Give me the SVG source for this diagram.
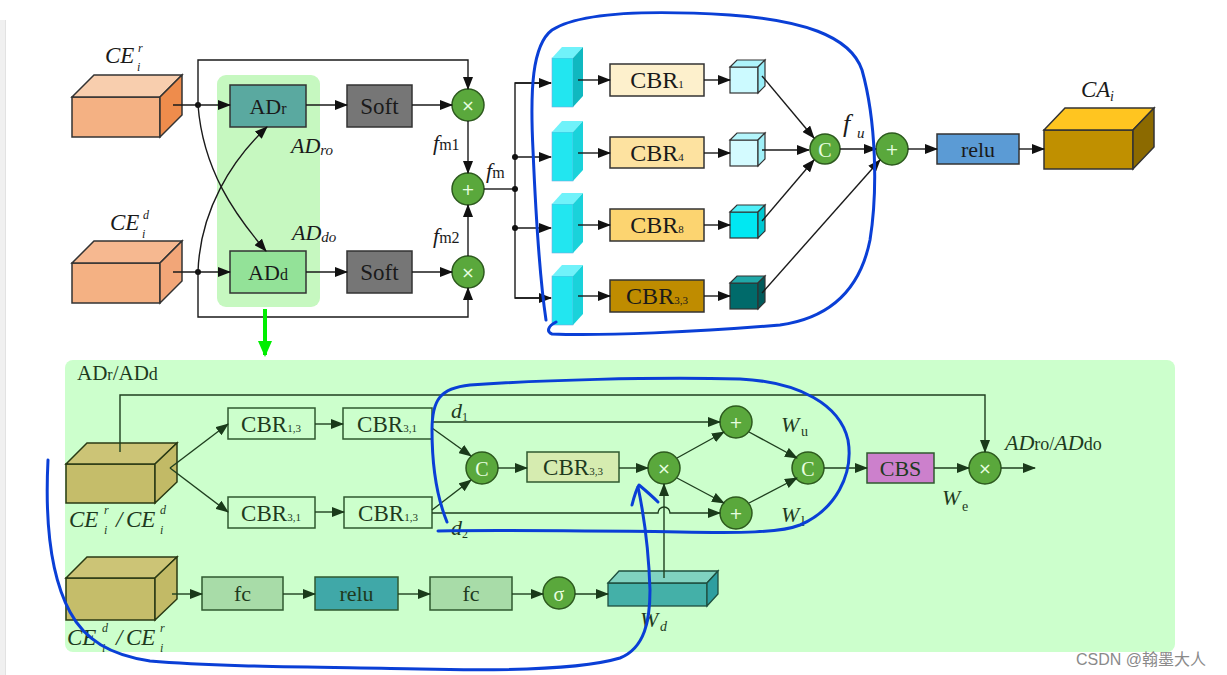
<svg xmlns="http://www.w3.org/2000/svg" width="1227" height="675" viewBox="0 0 1227 675">
<defs>
<marker id="a" markerUnits="userSpaceOnUse" markerWidth="13" markerHeight="10" refX="12" refY="5" orient="auto"><path d="M0,0 L13,5 L0,10 z" fill="#111"/></marker>
<marker id="g" markerUnits="userSpaceOnUse" markerWidth="13" markerHeight="10" refX="12" refY="5" orient="auto"><path d="M0,0 L13,5 L0,10 z" fill="#1a3a1a"/></marker>
<marker id="bg" markerUnits="userSpaceOnUse" markerWidth="16" markerHeight="14" refX="14" refY="7" orient="auto"><path d="M0,0 L16,7 L0,14 z" fill="#00ee00"/></marker>
<style>
.t{font-family:"Liberation Serif","Times New Roman",serif;fill:#1a1a1a}
.i{font-style:italic}
.gt{font-family:"Liberation Serif","Times New Roman",serif;fill:#1e3a1e}
.ln{fill:none;stroke:#1a1a1a;stroke-width:1.4}
.gl{fill:none;stroke:#1f3f1f;stroke-width:1.4}
.ci{fill:#5aa83c;stroke:#2d5a1e;stroke-width:1.5}
.sym{font-family:"DejaVu Sans",sans-serif;fill:#e8ffe0;font-size:16px}
.csym{font-family:"Liberation Serif",serif;fill:#e8ffe0;font-size:20px}
.bx{stroke:#333;stroke-width:1.5}
.gb{stroke:#2f5a2f;stroke-width:1.5}
.blue{fill:none;stroke:#0a3fd6;stroke-width:3;stroke-linecap:round;stroke-linejoin:round}
</style>
</defs>

<rect x="0" y="0" width="1227" height="675" fill="#ffffff"/>
<rect x="0" y="20" width="5" height="655" fill="#f0f0f0"/>
<line x1="5.5" y1="20" x2="5.5" y2="675" stroke="#e2e2e2" stroke-width="1"/>

<!-- top green highlight -->
<rect x="217" y="75" width="103" height="232" rx="9" fill="#c6f8c0"/>
<!-- bottom panel -->
<rect x="65" y="360" width="1110" height="292" rx="8" fill="#ccffcc"/>

<!-- ===== TOP SECTION NODES ===== -->
<g id="ce-r">
<rect x="72" y="97" width="88" height="40" fill="#f4b183" stroke="#333" stroke-width="1.5"/>
<polygon points="72,97 94,75 182,75 160,97" fill="#f8ceae" stroke="#333" stroke-width="1.5"/>
<polygon points="160,97 182,75 182,115 160,137" fill="#ee8c4c" stroke="#333" stroke-width="1.5"/>
<text class="t i" x="105" y="63" font-size="23">CE</text>
<text class="t i" x="138" y="52" font-size="12">r</text>
<text class="t i" x="137" y="71" font-size="12">i</text>
</g>
<g id="ce-d">
<rect x="72" y="263" width="88" height="40" fill="#f4b183" stroke="#333" stroke-width="1.5"/>
<polygon points="72,263 94,241 182,241 160,263" fill="#f6b890" stroke="#333" stroke-width="1.5"/>
<polygon points="160,263 182,241 182,281 160,303" fill="#f2a678" stroke="#333" stroke-width="1.5"/>
<text class="t i" x="110" y="230" font-size="23">CE</text>
<text class="t i" x="143" y="219" font-size="12">d</text>
<text class="t i" x="142" y="238" font-size="12">i</text>
</g>
<g id="adr">
<rect class="bx" x="230" y="85" width="76" height="42" fill="#5aa9a0"/>
<text class="t" x="268" y="114" font-size="22" text-anchor="middle">AD<tspan font-size="16">r</tspan></text>
</g>
<g id="add">
<rect class="bx" x="230" y="251" width="76" height="42" fill="#93e298"/>
<text class="t" x="268" y="280" font-size="22" text-anchor="middle">AD<tspan font-size="16">d</tspan></text>
</g>
<text class="t i" x="291" y="153" font-size="22" fill="#1a3a1a">AD<tspan font-size="15" dy="2">ro</tspan></text>
<text class="t i" x="292" y="240" font-size="22" fill="#1a3a1a">AD<tspan font-size="15" dy="2">do</tspan></text>
<g id="soft1">
<rect class="bx" x="347" y="85" width="65" height="42" fill="#767676"/>
<text class="t" x="379.5" y="114" font-size="23" text-anchor="middle">Soft</text>
</g>
<g id="soft2">
<rect class="bx" x="347" y="251" width="65" height="42" fill="#767676"/>
<text class="t" x="379.5" y="280" font-size="23" text-anchor="middle">Soft</text>
</g>
<g id="mul1"><circle class="ci" cx="468" cy="105" r="16"/><text class="sym" x="468" y="105" text-anchor="middle" dominant-baseline="central">×</text></g>
<g id="mul2"><circle class="ci" cx="468" cy="272" r="16"/><text class="sym" x="468" y="272" text-anchor="middle" dominant-baseline="central">×</text></g>
<g id="add1"><circle class="ci" cx="468" cy="189" r="16"/><text class="sym" x="468" y="189" text-anchor="middle" dominant-baseline="central">+</text></g>
<text class="t i" x="433" y="150" font-size="22">f<tspan font-style="normal" font-size="16">m1</tspan></text>
<text class="t i" x="433" y="243" font-size="22">f<tspan font-style="normal" font-size="16">m2</tspan></text>
<text class="t i" x="486" y="178" font-size="22">f<tspan font-style="normal" font-size="16">m</tspan></text>

<!-- cyan blocks -->
<g id="blk1">
<rect x="552" y="58" width="21" height="49" fill="#22e6f0" stroke="#7ad" stroke-width="0.6"/>
<polygon points="552,58 562,47 583,47 573,58" fill="#70f2fa"/>
<polygon points="573,58 583,47 583,96 573,107" fill="#10b8c0"/>
</g>
<g id="blk2">
<rect x="552" y="132" width="21" height="49" fill="#22e6f0" stroke="#7ad" stroke-width="0.6"/>
<polygon points="552,132 562,121 583,121 573,132" fill="#70f2fa"/>
<polygon points="573,132 583,121 583,170 573,181" fill="#1ad2da"/>
</g>
<g id="blk3">
<rect x="552" y="204" width="21" height="49" fill="#22e6f0" stroke="#7ad" stroke-width="0.6"/>
<polygon points="552,204 562,193 583,193 573,204" fill="#70f2fa"/>
<polygon points="573,204 583,193 583,242 573,253" fill="#1ad2da"/>
</g>
<g id="blk4">
<rect x="552" y="276" width="21" height="49" fill="#22e6f0" stroke="#7ad" stroke-width="0.6"/>
<polygon points="552,276 562,265 583,265 573,276" fill="#70f2fa"/>
<polygon points="573,276 583,265 583,314 573,325" fill="#1ad2da"/>
</g>
<g id="cbr1"><rect class="bx" x="610" y="64" width="94" height="32" fill="#fdf0cc"/><text class="t" x="657" y="88" font-size="24" text-anchor="middle">CBR<tspan font-size="11">1</tspan></text></g>
<g id="cbr4"><rect class="bx" x="610" y="137" width="94" height="31" fill="#fde2a0"/><text class="t" x="657" y="161" font-size="24" text-anchor="middle">CBR<tspan font-size="11">4</tspan></text></g>
<g id="cbr8"><rect class="bx" x="610" y="209" width="94" height="32" fill="#fcd470"/><text class="t" x="657" y="233" font-size="24" text-anchor="middle">CBR<tspan font-size="11">8</tspan></text></g>
<g id="cbr33"><rect class="bx" x="610" y="280" width="94" height="32" fill="#bf8c00"/><text class="t" x="657" y="304" font-size="24" text-anchor="middle">CBR<tspan font-size="11">3,3</tspan></text></g>
<g id="cube1">
<rect x="730" y="67" width="28" height="26" fill="#ccfaff" stroke="#333" stroke-width="1.2"/>
<polygon points="730,67 737,60 765,60 758,67" fill="#aef4fb" stroke="#333" stroke-width="1.2"/>
<polygon points="758,67 765,60 765,86 758,93" fill="#98eef8" stroke="#333" stroke-width="1.2"/>
</g>
<g id="cube2">
<rect x="730" y="140" width="28" height="26" fill="#d4fbff" stroke="#333" stroke-width="1.2"/>
<polygon points="730,140 737,133 765,133 758,140" fill="#b4f5fb" stroke="#333" stroke-width="1.2"/>
<polygon points="758,140 765,133 765,159 758,166" fill="#a0f0f8" stroke="#333" stroke-width="1.2"/>
</g>
<g id="cube3">
<rect x="730" y="212" width="28" height="26" fill="#00e8f2" stroke="#333" stroke-width="1.2"/>
<polygon points="730,212 737,205 765,205 758,212" fill="#50f0f8" stroke="#333" stroke-width="1.2"/>
<polygon points="758,212 765,205 765,231 758,238" fill="#00c8d2" stroke="#333" stroke-width="1.2"/>
</g>
<g id="cube4">
<rect x="730" y="283" width="28" height="26" fill="#006a6a" stroke="#333" stroke-width="1.2"/>
<polygon points="730,283 737,276 765,276 758,283" fill="#20a8a8" stroke="#333" stroke-width="1.2"/>
<polygon points="758,283 765,276 765,302 758,309" fill="#005a5a" stroke="#333" stroke-width="1.2"/>
</g>
<g id="concat1"><circle class="ci" cx="825" cy="149" r="15"/><text class="csym" x="825" y="150" text-anchor="middle" dominant-baseline="central">C</text></g>
<text class="t i" x="843" y="132" font-size="26">f</text>
<text class="t i" x="857" y="138" font-size="15">u</text>
<g id="add2"><circle class="ci" cx="892" cy="149" r="16"/><text class="sym" x="892" y="149" text-anchor="middle" dominant-baseline="central">+</text></g>
<g id="relu1"><rect class="bx" x="937" y="134" width="82" height="30" fill="#5b9bd5"/><text class="t" x="978" y="157" font-size="22" text-anchor="middle">relu</text></g>
<g id="ca">
<rect x="1044" y="130" width="89" height="39" fill="#c09000" stroke="#333" stroke-width="1.5"/>
<polygon points="1044,130 1065,108 1154,108 1133,130" fill="#ffc520" stroke="#333" stroke-width="1.5"/>
<polygon points="1133,130 1154,108 1154,147 1133,169" fill="#8c6a00" stroke="#333" stroke-width="1.5"/>
<text class="t i" x="1081" y="97" font-size="23">CA</text>
<text class="t i" x="1110" y="101" font-size="14">i</text>
</g>

<!-- ===== BOTTOM PANEL NODES ===== -->
<text class="gt" x="77" y="380" font-size="21">AD<tspan font-size="16">r</tspan>/AD<tspan font-size="18">d</tspan></text>
<g id="ce-rd">
<rect x="66" y="464" width="89" height="39" fill="#c5bd6a" stroke="#2a3a14" stroke-width="1.5"/>
<polygon points="66,464 87,443 177,443 155,464" fill="#ccc476" stroke="#2a3a14" stroke-width="1.5"/>
<polygon points="155,464 177,443 177,482 155,503" fill="#c2ba66" stroke="#2a3a14" stroke-width="1.5"/>
<text class="gt i" x="69" y="527" font-size="23">CE</text>
<text class="gt i" x="104" y="514" font-size="12">r</text>
<text class="gt i" x="104" y="534" font-size="12">i</text>
<text class="gt i" x="116" y="527" font-size="23">/</text>
<text class="gt i" x="126" y="527" font-size="23">CE</text>
<text class="gt i" x="160" y="514" font-size="12">d</text>
<text class="gt i" x="160" y="534" font-size="12">i</text>
</g>
<g id="ce-dr">
<rect x="66" y="578" width="89" height="42" fill="#c5bd6a" stroke="#2a3a14" stroke-width="1.5"/>
<polygon points="66,578 87,557 177,557 155,578" fill="#ccc476" stroke="#2a3a14" stroke-width="1.5"/>
<polygon points="155,578 177,557 177,599 155,620" fill="#c2ba66" stroke="#2a3a14" stroke-width="1.5"/>
<text class="gt i" x="67" y="645" font-size="23">CE</text>
<text class="gt i" x="102" y="632" font-size="12">d</text>
<text class="gt i" x="102" y="652" font-size="12">i</text>
<text class="gt i" x="116" y="645" font-size="23">/</text>
<text class="gt i" x="126" y="645" font-size="23">CE</text>
<text class="gt i" x="160" y="632" font-size="12">r</text>
<text class="gt i" x="160" y="652" font-size="12">i</text>
</g>
<g id="b-cbr13a"><rect class="gb" x="228" y="408" width="87" height="31" fill="#ccffcc"/><text class="gt" x="271" y="432" font-size="23" text-anchor="middle">CBR<tspan font-size="11">1,3</tspan></text></g>
<g id="b-cbr31a"><rect class="gb" x="343" y="408" width="89" height="31" fill="#ccffcc"/><text class="gt" x="387" y="432" font-size="23" text-anchor="middle">CBR<tspan font-size="11">3,1</tspan></text></g>
<g id="b-cbr31b"><rect class="gb" x="228" y="497" width="87" height="31" fill="#ccffcc"/><text class="gt" x="271" y="521" font-size="23" text-anchor="middle">CBR<tspan font-size="11">3,1</tspan></text></g>
<g id="b-cbr13b"><rect class="gb" x="344" y="497" width="88" height="31" fill="#ccffcc"/><text class="gt" x="388" y="521" font-size="23" text-anchor="middle">CBR<tspan font-size="11">1,3</tspan></text></g>
<text class="gt i" x="451" y="418" font-size="22">d</text><text class="gt" x="462" y="421" font-size="12">1</text>
<text class="gt i" x="451" y="535" font-size="22">d</text><text class="gt" x="462" y="538" font-size="12">2</text>
<g id="b-c1"><circle class="ci" cx="482" cy="468" r="16"/><text class="csym" x="482" y="469" text-anchor="middle" dominant-baseline="central">C</text></g>
<g id="b-cbr33"><rect class="gb" x="527" y="452" width="92" height="30" fill="#d6ecb0"/><text class="gt" x="573" y="475" font-size="23" text-anchor="middle">CBR<tspan font-size="11">3,3</tspan></text></g>
<g id="b-mul"><circle class="ci" cx="664" cy="468" r="16"/><text class="sym" x="664" y="468" text-anchor="middle" dominant-baseline="central">×</text></g>
<g id="b-addu"><circle class="ci" cx="736" cy="422" r="16"/><text class="sym" x="736" y="422" text-anchor="middle" dominant-baseline="central">+</text></g>
<g id="b-addl"><circle class="ci" cx="736" cy="513" r="16"/><text class="sym" x="736" y="513" text-anchor="middle" dominant-baseline="central">+</text></g>
<text class="gt i" x="781" y="432" font-size="22">W</text><text class="gt" x="801" y="436" font-size="14">u</text>
<text class="gt i" x="781" y="522" font-size="22">W</text><text class="gt" x="801" y="526" font-size="14">l</text>
<g id="b-c2"><circle class="ci" cx="808" cy="468" r="16"/><text class="csym" x="808" y="469" text-anchor="middle" dominant-baseline="central">C</text></g>
<g id="b-cbs"><rect class="gb" x="867" y="453" width="67" height="30" fill="#cc80cc"/><text class="gt" x="900.5" y="476" font-size="22" text-anchor="middle">CBS</text></g>
<g id="b-mul2"><circle class="ci" cx="985" cy="468" r="16"/><text class="sym" x="985" y="468" text-anchor="middle" dominant-baseline="central">×</text></g>
<text class="gt" x="1005" y="450" font-size="22"><tspan font-style="italic">AD</tspan><tspan font-size="18">ro/</tspan><tspan font-style="italic">AD</tspan><tspan font-size="18">do</tspan></text>
<text class="gt i" x="942" y="505" font-size="22">W</text><text class="gt" x="962" y="511" font-size="14">e</text>
<g id="b-fc1"><rect class="gb" x="202" y="577" width="81" height="33" fill="#a8dca8"/><text class="gt" x="242.5" y="601" font-size="22" text-anchor="middle">fc</text></g>
<g id="b-relu"><rect class="gb" x="315" y="577" width="83" height="33" fill="#40a8a8"/><text class="gt" x="356.5" y="601" font-size="22" text-anchor="middle">relu</text></g>
<g id="b-fc2"><rect class="gb" x="430" y="577" width="82" height="33" fill="#a8dca8"/><text class="gt" x="471" y="601" font-size="22" text-anchor="middle">fc</text></g>
<g id="b-sig"><circle class="ci" cx="559" cy="593" r="16"/><text class="csym" x="559" y="594" text-anchor="middle" dominant-baseline="central">σ</text></g>
<g id="b-wd">
<rect x="608" y="583" width="99" height="23" fill="#44b0a8" stroke="#1f4f3f" stroke-width="1.3"/>
<polygon points="608,583 619,571 718,571 707,583" fill="#80d2c0" stroke="#1f4f3f" stroke-width="1.3"/>
<polygon points="707,583 718,571 718,594 707,606" fill="#2e9ea0" stroke="#1f4f3f" stroke-width="1.3"/>
<text class="gt i" x="640" y="627" font-size="22">W</text><text class="gt i" x="660" y="631" font-size="14">d</text>
</g>

<!-- ===== CONNECTORS ===== -->
<g id="connectors">
<line class="ln" x1="173" y1="105" x2="230" y2="105" marker-end="url(#a)"/>
<line class="ln" x1="173" y1="272" x2="230" y2="272" marker-end="url(#a)"/>
<circle cx="198" cy="105" r="3" fill="#111"/>
<circle cx="198" cy="272" r="3" fill="#111"/>
<path class="ln" d="M198,105 V60 H468 V89" marker-end="url(#a)"/>
<path class="ln" d="M198,272 V317 H468 V288" marker-end="url(#a)"/>
<path class="ln" d="M198,105 C203,170 235,215 266,251" marker-end="url(#a)"/>
<path class="ln" d="M198,272 C200,210 232,160 267,127" marker-end="url(#a)"/>
<line class="ln" x1="306" y1="105" x2="347" y2="105" marker-end="url(#a)"/>
<line class="ln" x1="306" y1="272" x2="347" y2="272" marker-end="url(#a)"/>
<line class="ln" x1="412" y1="105" x2="452" y2="105" marker-end="url(#a)"/>
<line class="ln" x1="412" y1="272" x2="452" y2="272" marker-end="url(#a)"/>
<line class="ln" x1="468" y1="121" x2="468" y2="173" marker-end="url(#a)"/>
<line class="ln" x1="468" y1="256" x2="468" y2="205" marker-end="url(#a)"/>
<path class="ln" d="M484,189 H515"/>
<path class="ln" d="M551,83 H515 V298 H551"/>
<line class="ln" x1="515" y1="83" x2="551" y2="83" marker-end="url(#a)"/>
<line class="ln" x1="515" y1="157" x2="551" y2="157" marker-end="url(#a)"/>
<line class="ln" x1="515" y1="228" x2="551" y2="228" marker-end="url(#a)"/>
<line class="ln" x1="515" y1="298" x2="551" y2="298" marker-end="url(#a)"/>
<circle cx="515" cy="157" r="3" fill="#111"/>
<circle cx="515" cy="189" r="3" fill="#111"/>
<circle cx="515" cy="228" r="3" fill="#111"/>
<line class="ln" x1="578" y1="80" x2="610" y2="80" marker-end="url(#a)"/>
<line class="ln" x1="578" y1="153" x2="610" y2="153" marker-end="url(#a)"/>
<line class="ln" x1="578" y1="225" x2="610" y2="225" marker-end="url(#a)"/>
<line class="ln" x1="578" y1="296" x2="610" y2="296" marker-end="url(#a)"/>
<line class="ln" x1="704" y1="80" x2="730" y2="80" marker-end="url(#a)"/>
<line class="ln" x1="704" y1="153" x2="730" y2="153" marker-end="url(#a)"/>
<line class="ln" x1="704" y1="225" x2="730" y2="225" marker-end="url(#a)"/>
<line class="ln" x1="704" y1="296" x2="730" y2="296" marker-end="url(#a)"/>
<line class="ln" x1="762" y1="76" x2="814" y2="138" marker-end="url(#a)"/>
<line class="ln" x1="762" y1="150" x2="809" y2="150" marker-end="url(#a)"/>
<line class="ln" x1="762" y1="221" x2="814" y2="160" marker-end="url(#a)"/>
<line class="ln" x1="762" y1="293" x2="880" y2="160" marker-end="url(#a)"/>
<line class="ln" x1="840" y1="149" x2="876" y2="149" marker-end="url(#a)"/>
<line class="ln" x1="908" y1="149" x2="937" y2="149" marker-end="url(#a)"/>
<line class="ln" x1="1019" y1="149" x2="1044" y2="149" marker-end="url(#a)"/>
<line x1="265" y1="309" x2="265" y2="355" stroke="#00ee00" stroke-width="4" marker-end="url(#bg)"/>

<line class="gl" x1="170" y1="468" x2="228" y2="424" marker-end="url(#g)"/>
<line class="gl" x1="170" y1="468" x2="228" y2="512" marker-end="url(#g)"/>
<path class="gl" d="M120,452 V395 H985 V452" marker-end="url(#g)"/>
<line class="gl" x1="315" y1="424" x2="343" y2="424" marker-end="url(#g)"/>
<line class="gl" x1="315" y1="512" x2="344" y2="512" marker-end="url(#g)"/>
<line class="gl" x1="432" y1="422" x2="720" y2="422" marker-end="url(#g)"/>
<path class="gl" d="M432,513 H658 A6,6 0 0 1 670,513 H720" marker-end="url(#g)"/>
<line class="gl" x1="432" y1="428" x2="471" y2="456" marker-end="url(#g)"/>
<line class="gl" x1="432" y1="510" x2="471" y2="480" marker-end="url(#g)"/>
<line class="gl" x1="498" y1="468" x2="527" y2="468" marker-end="url(#g)"/>
<line class="gl" x1="619" y1="468" x2="648" y2="468" marker-end="url(#g)"/>
<line class="gl" x1="664" y1="578" x2="664" y2="484" marker-end="url(#g)"/>
<line class="gl" x1="677" y1="458" x2="724" y2="432" marker-end="url(#g)"/>
<line class="gl" x1="677" y1="478" x2="724" y2="503" marker-end="url(#g)"/>
<line class="gl" x1="749" y1="432" x2="797" y2="458" marker-end="url(#g)"/>
<line class="gl" x1="749" y1="503" x2="797" y2="478" marker-end="url(#g)"/>
<line class="gl" x1="824" y1="468" x2="867" y2="468" marker-end="url(#g)"/>
<line class="gl" x1="934" y1="468" x2="969" y2="468" marker-end="url(#g)"/>
<line class="gl" x1="1001" y1="468" x2="1035" y2="468" marker-end="url(#g)"/>
<line class="gl" x1="172" y1="594" x2="202" y2="594" marker-end="url(#g)"/>
<line class="gl" x1="283" y1="594" x2="315" y2="594" marker-end="url(#g)"/>
<line class="gl" x1="398" y1="594" x2="430" y2="594" marker-end="url(#g)"/>
<line class="gl" x1="512" y1="594" x2="543" y2="594" marker-end="url(#g)"/>
<line class="gl" x1="575" y1="594" x2="608" y2="594" marker-end="url(#g)"/>
</g>

<!-- hand-drawn blue annotations -->
<g id="annotations">
<path class="blue" d="M556,322 C548,326 546,332 552,334 C600,336 700,332 780,325 C830,318 860,290 870,240 C878,190 876,120 862,70 C850,35 800,20 730,15 C650,10 580,12 552,30 C532,45 530,90 533,150 C536,220 540,280 546,320"/>
<path class="blue" d="M447,522 C438,500 432,470 432,430 C432,400 440,388 470,385 C540,380 650,377 740,379 C800,382 840,405 848,440 C854,475 835,510 800,525 C780,533 740,533 680,532 C600,531 500,530 438,531"/>
<path class="blue" d="M48,460 C45,520 50,575 70,612 C85,640 110,655 150,661 C220,667 320,667 420,669 C500,671 580,670 620,658 C645,648 650,620 650,590 C649,560 645,520 638,487"/>
<path class="blue" d="M632,505 C634,497 636,490 639,485 C645,490 652,496 658,502"/>
</g>

<text x="1076" y="665" font-family="Liberation Sans, Arial, 'Noto Sans CJK SC', sans-serif" font-size="16" fill="#8a8a8a">CSDN @翰墨大人</text>
</svg>
